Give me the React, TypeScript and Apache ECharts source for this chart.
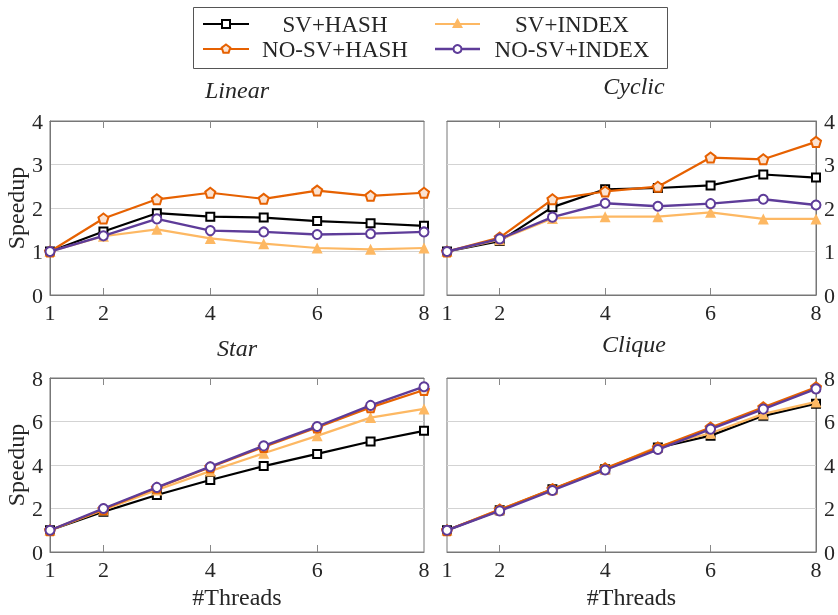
import React, { useEffect, useRef } from "react";
import * as echarts from "echarts";

const threads = [1, 2, 3, 4, 5, 6, 7, 8];
const xTickLabels = [1, 2, 4, 6, 8];
const xTickMarks = [2, 4, 6];
const seriesNames = ["SV+HASH", "SV+INDEX", "NO-SV+HASH", "NO-SV+INDEX"];
const panelTitles = ["Linear", "Cyclic", "Star", "Clique"];
const xAxisTitle = "#Threads";
const yAxisTitle = "Speedup";

// Linear
const linearSvHash = [1.0, 1.46, 1.88, 1.8, 1.78, 1.7, 1.65, 1.59];
const linearSvIndex = [1.0, 1.35, 1.51, 1.3, 1.18, 1.08, 1.05, 1.08];
const linearNoSvHash = [1.0, 1.76, 2.2, 2.35, 2.21, 2.4, 2.28, 2.35];
const linearNoSvIndex = [1.0, 1.36, 1.75, 1.48, 1.45, 1.39, 1.41, 1.45];
// Cyclic
const cyclicSvHash = [1.0, 1.24, 2.02, 2.43, 2.46, 2.52, 2.77, 2.7];
const cyclicSvIndex = [1.0, 1.27, 1.76, 1.8, 1.8, 1.9, 1.75, 1.75];
const cyclicNoSvHash = [1.0, 1.32, 2.2, 2.38, 2.49, 3.16, 3.12, 3.52];
const cyclicNoSvIndex = [1.0, 1.29, 1.79, 2.11, 2.04, 2.1, 2.2, 2.07];
// Star
const starSvHash = [1.0, 1.85, 2.62, 3.31, 3.95, 4.51, 5.08, 5.57];
const starSvIndex = [1.0, 1.93, 2.85, 3.72, 4.54, 5.34, 6.18, 6.58];
const starNoSvHash = [1.0, 1.97, 2.95, 3.9, 4.83, 5.72, 6.65, 7.45];
const starNoSvIndex = [1.0, 2.0, 2.97, 3.92, 4.88, 5.77, 6.74, 7.6];
// Clique
const cliqueSvHash = [1.0, 1.92, 2.88, 3.8, 4.8, 5.35, 6.26, 6.82];
const cliqueSvIndex = [1.0, 1.95, 2.88, 3.82, 4.85, 5.46, 6.35, 6.9];
const cliqueNoSvHash = [1.0, 1.95, 2.89, 3.85, 4.8, 5.72, 6.65, 7.57];
const cliqueNoSvIndex = [1.0, 1.89, 2.83, 3.77, 4.71, 5.65, 6.57, 7.5];

const panelData = [
  [linearSvHash, linearSvIndex, linearNoSvHash, linearNoSvIndex],
  [cyclicSvHash, cyclicSvIndex, cyclicNoSvHash, cyclicNoSvIndex],
  [starSvHash, starSvIndex, starNoSvHash, starNoSvIndex],
  [cliqueSvHash, cliqueSvIndex, cliqueNoSvHash, cliqueNoSvIndex],
];
const panelYMax = [4, 4, 8, 8];
const panelYInterval = [1, 1, 2, 2];

const FONT = "Liberation Serif";
const TEXT = "#262626";
const BLACK = "#000000";
const YELLOW = "#fdb863";
const ORANGE = "#e66101";
const PURPLE = "#5e3c99";
const PENTAGON = "path://M0,-10 L9.51,-3.09 L5.88,8.09 L-5.88,8.09 L-9.51,-3.09 Z";

const styles = [
  { color: BLACK, symbol: "emptyRect", size: 8, item: { color: BLACK, borderWidth: 2 } },
  { color: YELLOW, symbol: "triangle", size: 11, item: { color: YELLOW } },
  { color: ORANGE, symbol: PENTAGON, size: 10, item: { color: "#fbe3d2", borderColor: ORANGE, borderWidth: 2 } },
  { color: PURPLE, symbol: "emptyCircle", size: 9, item: { color: PURPLE, borderWidth: 2 } },
];

const grids = [
  { left: 50, top: 121, width: 374, height: 174 },
  { left: 447, top: 121, width: 374, height: 174 },
  { left: 50, top: 378, width: 374, height: 174 },
  { left: 447, top: 378, width: 374, height: 174 },
];
const titlePos = [
  { x: 237, y: 90 },
  { x: 634, y: 86 },
  { x: 237, y: 348 },
  { x: 634, y: 344 },
];

export default function App() {
  const ref = useRef<HTMLDivElement>(null);
  useEffect(() => {
    if (!ref.current) return;
    const chart = echarts.init(ref.current, null, { renderer: "svg" });

    const lbl = { fontFamily: FONT, fontSize: 22, color: TEXT };
    const nm = { fontFamily: FONT, fontSize: 24, color: TEXT };
    const xAxes: any[] = [];
    const yAxes: any[] = [];
    const series: any[] = [];
    grids.forEach((_, i) => {
      const isBottom = i >= 2;
      const isRight = i % 2 === 1;
      xAxes.push({
        type: "value",
        gridIndex: i,
        position: "bottom",
        min: 1,
        max: 8,
        name: isBottom ? xAxisTitle : "",
        nameLocation: "middle",
        nameGap: 33,
        nameTextStyle: nm,
        axisLine: { show: true, lineStyle: { color: "#777", width: 1 } },
        axisTick: { show: true, inside: true, length: 7, customValues: xTickMarks, lineStyle: { color: "#888" } },
        axisLabel: { customValues: xTickLabels, ...lbl, margin: 6 },
        splitLine: { show: false },
      });
      xAxes.push({
        type: "value",
        gridIndex: i,
        position: "top",
        min: 1,
        max: 8,
        axisLine: { show: true, lineStyle: { color: "#777", width: 1 } },
        axisTick: { show: true, inside: true, length: 7, customValues: xTickMarks, lineStyle: { color: "#888" } },
        axisLabel: { show: false },
        splitLine: { show: false },
      });
      yAxes.push({
        type: "value",
        gridIndex: i,
        position: isRight ? "right" : "left",
        min: 0,
        max: panelYMax[i],
        interval: panelYInterval[i],
        name: isRight ? "" : yAxisTitle,
        nameLocation: "middle",
        nameGap: 20,
        nameRotate: 90,
        nameTextStyle: nm,
        axisLine: { show: true, lineStyle: { color: "#777", width: 1 } },
        axisTick: { show: false },
        axisLabel: { ...lbl, margin: isRight ? 8 : 7 },
        splitLine: { show: true, lineStyle: { color: "#d3d3d3", width: 1 } },
      });
      panelData[i].forEach((vals, k) => {
        const st = styles[k];
        series.push({
          type: "line",
          name: seriesNames[k],
          xAxisIndex: i * 2,
          yAxisIndex: i,
          data: threads.map((t, j) => [t, vals[j]]),
          symbol: st.symbol,
          symbolSize: st.size,
          showAllSymbol: true,
          lineStyle: { color: st.color, width: k === 3 ? 2.4 : 2.2 },
          itemStyle: st.item,
          z: 2 + k,
          emphasis: { disabled: true },
        });
      });
    });

    const legendEls: any[] = [
      {
        type: "rect",
        shape: { x: 193.5, y: 7.5, width: 474, height: 61 },
        style: { fill: "#fff", stroke: "#555", lineWidth: 1 },
        z: 10,
      },
    ];
    const cols = [
      { x1: 203, x2: 249, tx: 335 },
      { x1: 435, x2: 480, tx: 572 },
    ];
    const rows = [24, 49];
    seriesNames.forEach((name, k) => {
      const c = cols[k % 2];
      const y = rows[Math.floor(k / 2)];
      const st = styles[k];
      const mx = (c.x1 + c.x2) / 2;
      legendEls.push({
        type: "line",
        shape: { x1: c.x1, y1: y, x2: c.x2, y2: y },
        style: { stroke: st.color, lineWidth: k === 3 ? 2.4 : 2.2 },
        z: 11,
      });
      let marker: any;
      if (k === 0) {
        marker = { type: "rect", shape: { x: mx - 4, y: y - 4, width: 8, height: 8 }, style: { fill: "#fff", stroke: BLACK, lineWidth: 2 } };
      } else if (k === 1) {
        marker = { type: "polygon", shape: { points: [[mx, y - 6], [mx + 5.5, y + 4], [mx - 5.5, y + 4]] }, style: { fill: YELLOW } };
      } else if (k === 2) {
        const pts: number[][] = [];
        for (let a = 0; a < 5; a++) {
          const ang = -Math.PI / 2 + (a * 2 * Math.PI) / 5;
          pts.push([mx + 4.5 * Math.cos(ang), y + 4.5 * Math.sin(ang)]);
        }
        marker = { type: "polygon", shape: { points: pts }, style: { fill: "#fbe3d2", stroke: ORANGE, lineWidth: 2 } };
      } else {
        marker = { type: "circle", shape: { cx: mx, cy: y, r: 4 }, style: { fill: "#fff", stroke: PURPLE, lineWidth: 2 } };
      }
      marker.z = 12;
      legendEls.push(marker);
      legendEls.push({
        type: "text",
        x: c.tx,
        y: y,
        style: { text: name, align: "center", verticalAlign: "middle", fontFamily: FONT, fontSize: 23, fill: TEXT },
        z: 12,
      });
    });
    panelTitles.forEach((t, i) => {
      legendEls.push({
        type: "text",
        x: titlePos[i].x,
        y: titlePos[i].y,
        style: { text: t, align: "center", verticalAlign: "middle", fontFamily: FONT, fontStyle: "italic", fontSize: 24, fill: TEXT },
        z: 12,
      });
    });

    chart.setOption({
      animation: false,
      grid: grids.map((g) => ({ ...g, show: true, borderColor: "#777", borderWidth: 1, backgroundColor: "transparent" })),
      xAxis: xAxes,
      yAxis: yAxes,
      series,
      graphic: legendEls,
    });
    return () => chart.dispose();
  }, []);
  return <div ref={ref} style={{ position: "fixed", left: 0, top: 0, width: 838, height: 615 }} />;
}
